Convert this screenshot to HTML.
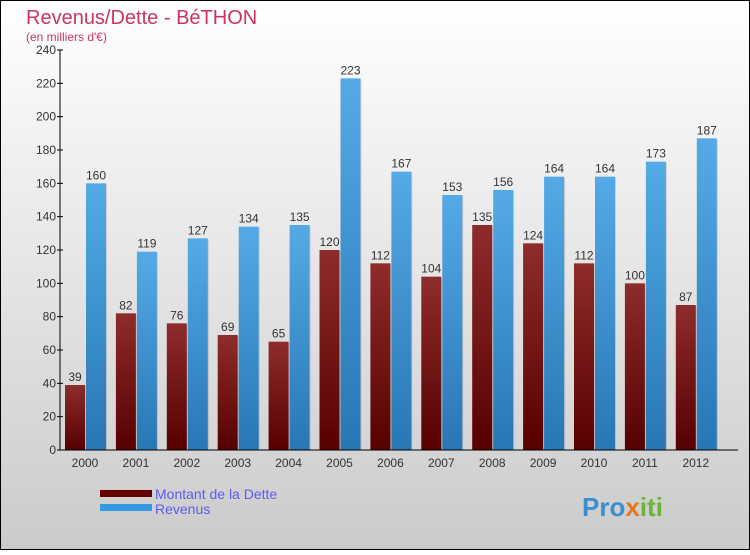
<!DOCTYPE html>
<html><head><meta charset="utf-8"><style>
html,body{margin:0;padding:0}
body{width:750px;height:550px;overflow:hidden;font-family:"Liberation Sans",sans-serif}
</style></head><body>
<svg id="chart" width="750" height="550" xmlns="http://www.w3.org/2000/svg">
<defs>
<linearGradient id="bg" x1="0" y1="0" x2="0" y2="1"><stop offset="0" stop-color="#ffffff"/><stop offset="1" stop-color="#cbcbcb"/></linearGradient>
<linearGradient id="gd" x1="0" y1="0" x2="0" y2="1"><stop offset="0" stop-color="#8e2c2c"/><stop offset="1" stop-color="#570000"/></linearGradient>
<linearGradient id="gr" x1="0" y1="0" x2="0" y2="1"><stop offset="0" stop-color="#55aae6"/><stop offset="1" stop-color="#2777b4"/></linearGradient>
</defs>
<rect x="0.5" y="0.5" width="749" height="549" fill="url(#bg)" stroke="#000"/>
<text x="26" y="24" font-size="20" fill="#c8365f">Revenus/Dette - BéTHON</text>
<text x="26" y="41" font-size="12" fill="#c8365f">(en milliers d'€)</text>
<g id="bars"></g>
<g id="axes"></g>
<rect x="100" y="490" width="52" height="7" fill="#660000"/>
<text x="155" y="499" font-size="14" fill="#5c5cf0">Montant de la Dette</text>
<rect x="100" y="504" width="52" height="7" fill="#3399e0"/>
<text x="155" y="514" font-size="14" fill="#5c5cf0">Revenus</text>
<text x="582" y="516" font-size="26" font-weight="bold" fill="#3a8fd0">Pro<tspan fill="#e07a1a">x</tspan><tspan fill="#6bb33a">iti</tspan></text>
</svg>
<script>
const categories=["2000","2001","2002","2003","2004","2005","2006","2007","2008","2009","2010","2011","2012"];
const dette=[39,82,76,69,65,120,112,104,135,124,112,100,87];
const revenus=[160,119,127,134,135,223,167,153,156,164,164,173,187];
const yTicks=[0,20,40,60,80,100,120,140,160,180,200,220,240];
const NS="http://www.w3.org/2000/svg";
const y0=450,yTop=50,yMax=240;
function y(v){return y0-(v/yMax)*(y0-yTop);}
function xc(i){return 85+i*50.9;}
function mk(t,a,p){const e=document.createElementNS(NS,t);for(const k in a)e.setAttribute(k,a[k]);p.appendChild(e);return e;}
const bars=document.getElementById('bars'),axes=document.getElementById('axes');
yTicks.forEach(v=>{
  const t=mk('text',{x:56,y:y(v)+4,'font-size':12,fill:'#333','text-anchor':'end'},axes);
  t.textContent=v;
  
  
  const l=mk('line',{x1:57,x2:63,y1:y(v),y2:y(v),stroke:'#000'},axes);
  
  
});
const ya=mk('line',{x1:60,x2:60,y1:yTop,y2:y0,stroke:'#000'},axes);


const xa=mk('line',{x1:60,x2:738,y1:y0,y2:y0,stroke:'#000'},axes);


categories.forEach((c,i)=>{
  const cx=xc(i);
  const d=dette[i],r=revenus[i];
  const s1=mk('rect',{x:cx-19,y:y(d)+1,width:20,height:y0-y(d)-1,fill:'#000',opacity:0.12},bars);
  
  
  const s2=mk('rect',{x:cx+2,y:y(r)+1,width:20,height:y0-y(r)-1,fill:'#000',opacity:0.12},bars);
  
  
  const b1=mk('rect',{x:cx-20,y:y(d),width:20,height:y0-y(d),fill:'url(#gd)'},bars);
  
  
  const b2=mk('rect',{x:cx+1,y:y(r),width:20,height:y0-y(r),fill:'url(#gr)'},bars);
  
  
  const t1=mk('text',{x:cx-10,y:y(d)-4,'font-size':12,fill:'#333','text-anchor':'middle'},bars);
  t1.textContent=d;
  
  
  const t2=mk('text',{x:cx+11,y:y(r)-4,'font-size':12,fill:'#333','text-anchor':'middle'},bars);
  t2.textContent=r;
  
  
  const xl=mk('text',{x:cx,y:467,'font-size':12,fill:'#333','text-anchor':'middle'},axes);
  xl.textContent=c;
  
  
});
</script>
</body></html>
